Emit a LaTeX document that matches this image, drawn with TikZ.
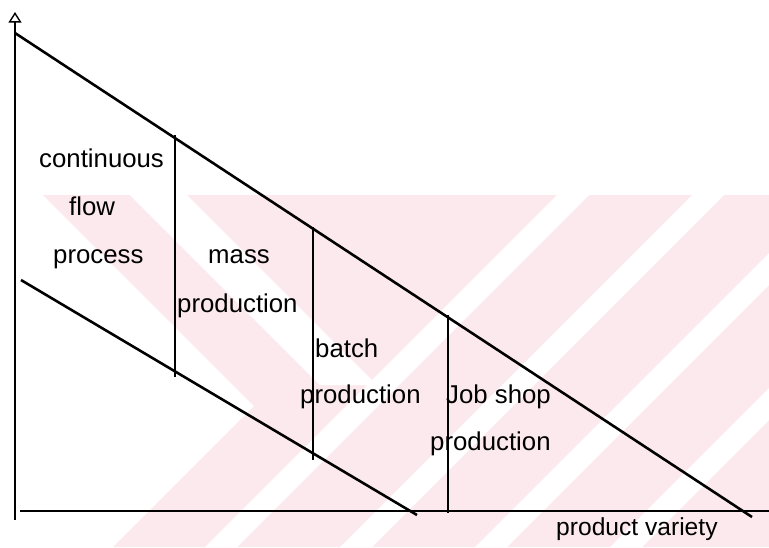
\documentclass[tikz,border=0pt]{standalone}
\usepackage{fontspec}
\setmainfont{Liberation Sans}
\usepackage{tikz}
\usetikzlibrary{arrows.meta}
\usepackage{xcolor}
\definecolor{wmpink}{RGB}{252,233,237}

\begin{document}
\begin{tikzpicture}[x=0.03cm, y=-0.03cm,
  axis/.style={line width=1.3pt},
  bound/.style={line width=2.2pt},
  divider/.style={line width=1pt},
  lbl/.style={anchor=base west, inner sep=0pt, font=\fontsize{22}{26}\selectfont},
  axlbl/.style={anchor=base west, inner sep=0pt, font=\fontsize{21}{25}\selectfont}]
\useasboundingbox (0,0) rectangle (769,547);
% watermark in the background
\begin{scope}
\clip (0,195) rectangle (769,547);
\fill[wmpink] (43,195) -- (769,195) -- (769,547) -- (113,547) -- (254,406) -- cycle;
\fill[white] (130,195) -- (187,195) -- (377,385) -- (320,385) -- cycle;
\foreach \c in {573,708,843,978}
  \fill[white] (\c-16,195) -- (\c+16,195) -- (\c-336,547) -- (\c-368,547) -- cycle;
\end{scope}
% axes
\coordinate (ytop) at (15,12);
\coordinate (ybot) at (15,520);
\coordinate (xl) at (20,511);
\coordinate (xr) at (769,511);
\draw[axis, -{Triangle[open, width=11pt, length=9pt, line width=1.2pt]}] (ybot) -- (ytop);
\draw[axis] (xl) -- (xr);
% the two bounding lines
\coordinate (hiA) at (15,33);
\coordinate (hiB) at (752,517);
\coordinate (loA) at (21,280);
\coordinate (loB) at (417,515);
\draw[bound] (hiA) -- (hiB);
\draw[bound] (loA) -- (loB);
% dividers between the regions
\coordinate (d1t) at (175,135);
\coordinate (d1b) at (175,377);
\coordinate (d2t) at (313,227);
\coordinate (d2b) at (313,460);
\coordinate (d3t) at (448,315);
\coordinate (d3b) at (448,513);
\draw[divider] (d1t) -- (d1b);
\draw[divider] (d2t) -- (d2b);
\draw[divider] (d3t) -- (d3b);
% labels
\node[lbl] (cont) at (39,167) {continuous};
\node[lbl] (flow) at (69,215) {flow};
\node[lbl] (proc) at (53,263) {process};
\node[lbl] (mass) at (208,263) {mass};
\node[lbl] (massp) at (177,312) {production};
\node[lbl] (batch) at (315,357) {batch};
\node[lbl] (batchp) at (300,403) {production};
\node[lbl] (job) at (446,403) {Job shop};
\node[lbl] (jobp) at (430,450) {production};
\node[axlbl] (variety) at (556,535) {product variety};
\end{tikzpicture}
\end{document}
